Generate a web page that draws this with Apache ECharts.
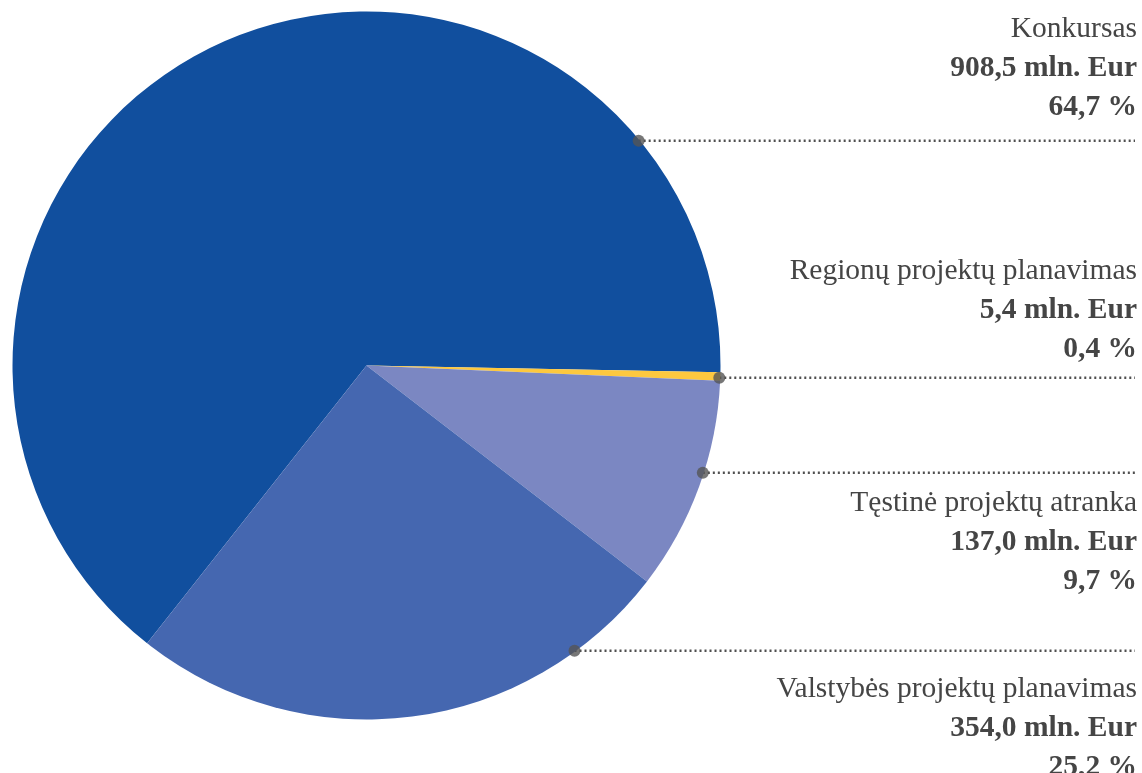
<!DOCTYPE html>
<html>
<head>
<meta charset="UTF-8">
<script src="https://cdn.jsdelivr.net/npm/echarts@6/dist/echarts.min.js"></script>
<title>Lėšų paskirstymas</title>
<style>html,body{margin:0;padding:0;background:#fff;}</style>
</head>
<body>
<div id="main" style="width:1142px;height:773px;"></div>
<script>
var categories = ['Konkursas', 'Regionų projektų planavimas', 'Tęstinė projektų atranka', 'Valstybės projektų planavimas'];
var amounts = [908.5, 5.4, 137.0, 354.0]; // mln. Eur
var shares = [64.7, 0.4, 9.7, 25.2]; // %
var colors = ['#114f9e', '#fdc83f', '#7b87c2', '#4567b0'];

// layout (px)
var CX = 366.5, CY = 365.5, R = 354;
var lineY = [140.7, 377.7, 472.7, 650.7];
var labelTop = [9.8, 251.8, 483.8, 669.8];
var RIGHT = 1137;

function fmt(v, d) { return v.toFixed(d).replace('.', ','); }
function dotAngle(i) { return -Math.asin((lineY[i] - CY) / (R - 1)) * 180 / Math.PI; }
function dotX(i) { return CX + Math.sqrt(Math.pow(R - 1, 2) - Math.pow(lineY[i] - CY, 2)); }

var pieData = categories.map(function (c, i) {
  return { name: c, value: amounts[i], itemStyle: { color: colors[i] } };
});

var dots = categories.map(function (c, i) { return [R - 1, dotAngle(i)]; });

var txt = { fontFamily: 'Liberation Serif', fontSize: 29.5, color: '#454545', lineHeight: 39 };

var myChart = echarts.init(document.getElementById('main'));

var option = {
  animation: false,
  polar: { center: [CX, CY], radius: R },
  angleAxis: { type: 'value', min: 0, max: 360, startAngle: 0, clockwise: false, show: false },
  radiusAxis: { type: 'value', min: 0, max: R, show: false },
  series: [
    {
      type: 'pie',
      center: [CX, CY],
      radius: R,
      startAngle: 231.7,
      clockwise: true,
      avoidLabelOverlap: false,
      silent: true,
      data: pieData,
      label: {
        show: true,
        overflow: 'none',
        formatter: function (p) {
          var i = p.dataIndex;
          return '{n|' + categories[i] + '}\n{v|' + fmt(amounts[i], 1) + ' mln. Eur}\n{v|' + fmt(shares[i], 1) + ' %}';
        },
        rich: {
          n: txt,
          v: Object.assign({}, txt, { fontWeight: 'bold' })
        }
      },
      labelLine: {
        show: true,
        lineStyle: { color: '#4f4f4f', width: 2.5, type: [2, 3] }
      },
      labelLayout: function (p) {
        var i = p.dataIndex;
        return {
          x: RIGHT,
          y: labelTop[i],
          align: 'right',
          verticalAlign: 'top',
          labelLinePoints: [[dotX(i), lineY[i]], [dotX(i) + 1, lineY[i]], [RIGHT - 2, lineY[i]]]
        };
      }
    },
    {
      type: 'scatter',
      coordinateSystem: 'polar',
      silent: true,
      symbolSize: 12,
      itemStyle: { color: '#555' },
      data: dots,
      z: 5
    }
  ]
};

myChart.setOption(option);
</script>
</body>
</html>
